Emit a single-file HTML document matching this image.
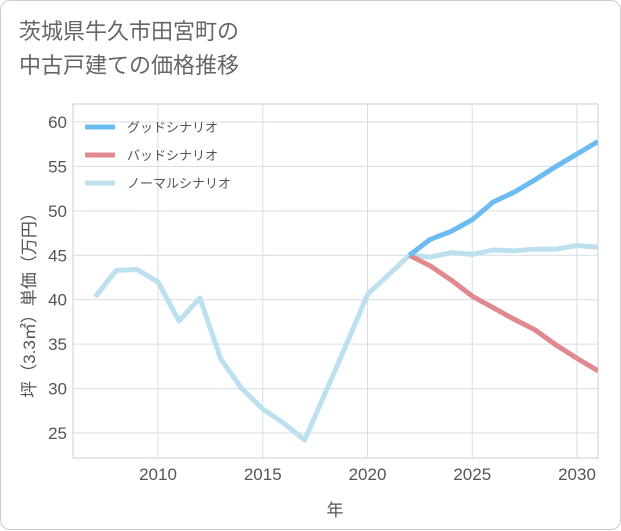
<!DOCTYPE html>
<html><head><meta charset="utf-8"><style>
body{margin:0;background:#fff;}
#card{position:absolute;left:0;top:0;width:619px;height:528px;border:1px solid #ccc;border-radius:10px;background:#fff;font-family:"Liberation Sans","Noto Sans CJK JP",sans-serif;}
#title{position:absolute;left:18px;top:14px;font-size:22px;line-height:34px;color:#666;font-family:"Liberation Sans","Noto Sans CJK JP",sans-serif;}
</style></head><body>
<div id="card">
<div id="title">茨城県牛久市田宮町の<br>中古戸建ての価格推移</div>
<svg id="chart" width="621" height="530" style="position:absolute;left:0;top:0"></svg>
</div>
<script>
const years=[2007,2008,2009,2010,2011,2012,2013,2014,2015,2016,2017,2018,2019,2020,2021,2022,2023,2024,2025,2026,2027,2028,2029,2030,2031];
const normalVals=[40.3,43.3,43.4,42,37.6,40.2,33.3,30,27.7,26.1,24.2,29.6,35,40.6,42.8,45,44.8,45.3,45.1,45.6,45.5,45.7,45.7,46.1,45.9];
const futureYears=[2022,2023,2024,2025,2026,2027,2028,2029,2030,2031];
const goodVals=[45,46.8,47.7,49,51,52.1,53.5,55,56.4,57.8];
const badVals=[45,43.8,42.2,40.4,39.1,37.8,36.6,34.9,33.4,32];
const xTicks=[2010,2015,2020,2025,2030];
const yTicks=[25,30,35,40,45,50,55,60];
const legendLabels=["グッドシナリオ","バッドシナリオ","ノーマルシナリオ"];
const legendColors=["#6bbcf0","#e08a90","#bde0ee"];

const L=72,R=597,T=103,B=457;
const x=v=>157+(v-2010)*20.95;
const y=v=>121+(60-v)*8.886;
const svg=document.getElementById('chart');
const NS='http://www.w3.org/2000/svg';
function mk(tag,attrs,parent){const e=document.createElementNS(NS,tag);for(const k in attrs)e.setAttribute(k,attrs[k]);(parent||svg).appendChild(e);return e;}

const frame=mk('rect',{x:L,y:T,width:R-L,height:B-T,fill:'none',stroke:'#c8ccd4','stroke-width':1});


yTicks.forEach(t=>{
  const g=mk('line',{x1:L,x2:R,y1:y(t),y2:y(t),stroke:'#d5dde6','stroke-width':1});
  
  
  const tx=mk('text',{x:L-6,y:y(t)+6,'text-anchor':'end','font-size':17,fill:'#555'});
  tx.textContent=t;
  
  
});
xTicks.forEach(t=>{
  const g=mk('line',{x1:x(t),x2:x(t),y1:T,y2:B,stroke:'#d5dde6','stroke-width':1});
  
  
  const tx=mk('text',{x:x(t),y:B+22,'text-anchor':'middle','font-size':17,fill:'#555'});
  tx.textContent=t;
  
  
});
const xt=mk('text',{x:334,y:515,'text-anchor':'middle','font-size':17,fill:'#555'});
xt.textContent='年';


const yt=mk('text',{x:0,y:0,'text-anchor':'middle','font-size':17,fill:'#555',transform:'translate(34,300) rotate(-90)'});
yt.textContent='坪（3.3㎡）単価（万円）';



const clip=mk('clipPath',{id:'pc'});
mk('rect',{x:L,y:T,width:R-L,height:B-T},clip);
function line(xs,vs,color,name){
  const p=mk('polyline',{points:xs.map((v,i)=>x(v)+','+y(vs[i])).join(' '),fill:'none',stroke:color,'stroke-width':5,'stroke-linejoin':'round','clip-path':'url(#pc)'});
  
  
}
line(years,normalVals,legendColors[2],'normal-scenario-line');
line(futureYears,badVals,legendColors[1],'bad-scenario-line');
line(futureYears,goodVals,legendColors[0],'good-scenario-line');

legendLabels.forEach((lab,i)=>{
  const ly=126+i*28;
  const l=mk('line',{x1:84,x2:114,y1:ly,y2:ly,stroke:legendColors[i],'stroke-width':5});
  
  
  const t=mk('text',{x:126,y:ly+5,'font-size':13,fill:'#555'});
  t.textContent=lab;
  
  
});
</script>
</body></html>
